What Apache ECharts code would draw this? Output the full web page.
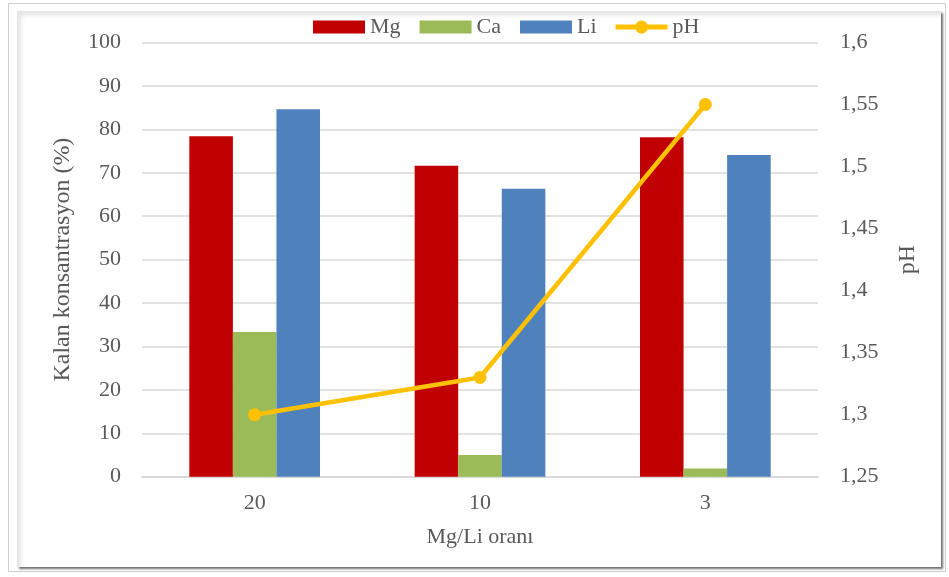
<!DOCTYPE html>
<html>
<head>
<meta charset="utf-8">
<script src="https://cdn.jsdelivr.net/npm/echarts@6/dist/echarts.min.js"></script>
<style>
  html, body { margin: 0; padding: 0; background: #ffffff; }
  #frame {
    position: absolute; left: 8px; top: 3px; width: 938px; height: 569px;
    border: 1px solid #d0d0d0; box-sizing: border-box; background: #ffffff;
  }
  #panel {
    position: absolute; left: 17px; top: 11px; width: 924px; height: 556px;
    background: #ffffff;
    box-shadow: 2px 2px 2px #707070, inset 4px 4px 5px #e4e4e4;
  }
  #chart { position: absolute; left: 0; top: 0; width: 949px; height: 577px; }
</style>
</head>
<body>
<div id="frame"></div>
<div id="panel"></div>
<div id="chart"></div>
<script>
// Mg/Li ratio categories and measured values
const categories = ['20', '10', '3'];
const mgValues = [78.4, 71.6, 78.2];
const caValues = [33.3, 5.0, 1.9];
const liValues = [84.6, 66.3, 74.1];
const phValues = [1.30, 1.33, 1.55];

const textColor = '#595959';
const fontFamily = '"Liberation Serif", "Times New Roman", serif';
const gridColor = '#d9d9d9';
const phColor = '#FFC000';

// legend key for the pH line: thick stroke with a round marker in the middle
const lineMarkerIcon = 'path://M0,4 L20,4 A6.5,6.5 0 0 1 32,4 L52,4 L52,9 L32,9 A6.5,6.5 0 0 1 20,9 L0,9 Z';

const chart = echarts.init(document.getElementById('chart'), null, { renderer: 'canvas' });

const commaFmt = v => String(parseFloat(v.toFixed(2))).replace('.', ',');

chart.setOption({
  backgroundColor: 'transparent',
  animation: false,
  textStyle: { fontFamily: fontFamily, color: textColor },
  legend: {
    top: 11,
    left: 308,
    itemWidth: 52,
    itemHeight: 13,
    itemGap: 19,
    textStyle: { fontFamily: fontFamily, fontSize: 22, color: textColor },
    data: [
      { name: 'Mg', icon: 'rect' },
      { name: 'Ca', icon: 'rect' },
      { name: 'Li', icon: 'rect' },
      { name: 'pH', icon: lineMarkerIcon, itemStyle: { color: phColor, borderWidth: 0 } }
    ]
  },
  grid: { left: 142, right: 131, top: 42.5, bottom: 100.3, containLabel: false },
  xAxis: {
    type: 'category',
    data: categories,
    name: 'Mg/Li oranı',
    nameLocation: 'middle',
    nameGap: 50,
    nameTextStyle: { fontFamily: fontFamily, fontSize: 22, color: textColor },
    axisLine: { lineStyle: { color: gridColor, width: 2 } },
    axisTick: { show: false },
    axisLabel: { fontFamily: fontFamily, fontSize: 22, color: textColor, margin: 16 }
  },
  yAxis: [
    {
      type: 'value',
      min: 0, max: 100, interval: 10,
      name: 'Kalan konsantrasyon (%)',
      nameLocation: 'middle',
      nameRotate: 90,
      nameGap: 67,
      nameTextStyle: { fontFamily: fontFamily, fontSize: 24, color: textColor },
      axisLine: { show: false },
      axisTick: { show: false },
      axisLabel: { fontFamily: fontFamily, fontSize: 22, color: textColor, margin: 21 },
      splitLine: { lineStyle: { color: gridColor, width: 1.5 } }
    },
    {
      type: 'value',
      min: 1.25, max: 1.6, interval: 0.05,
      name: 'pH',
      nameLocation: 'middle',
      nameRotate: 90,
      nameGap: 78,
      nameTextStyle: { fontFamily: fontFamily, fontSize: 24, color: textColor },
      axisLine: { show: false },
      axisTick: { show: false },
      splitLine: { show: false },
      axisLabel: { fontFamily: fontFamily, fontSize: 22, color: textColor, margin: 22, formatter: commaFmt }
    }
  ],
  series: [
    { name: 'Mg', type: 'bar', data: mgValues, barGap: '0%', barCategoryGap: '42%',
      itemStyle: { color: '#C00000' } },
    { name: 'Ca', type: 'bar', data: caValues, barGap: '0%', barCategoryGap: '42%',
      itemStyle: { color: '#9BBB59' } },
    { name: 'Li', type: 'bar', data: liValues, barGap: '0%', barCategoryGap: '42%',
      itemStyle: { color: '#4F81BD' } },
    { name: 'pH', type: 'line', yAxisIndex: 1, data: phValues, z: 5,
      symbol: 'circle', symbolSize: 13,
      lineStyle: { color: phColor, width: 4.5 },
      itemStyle: { color: phColor } }
  ]
});
</script>
</body>
</html>
